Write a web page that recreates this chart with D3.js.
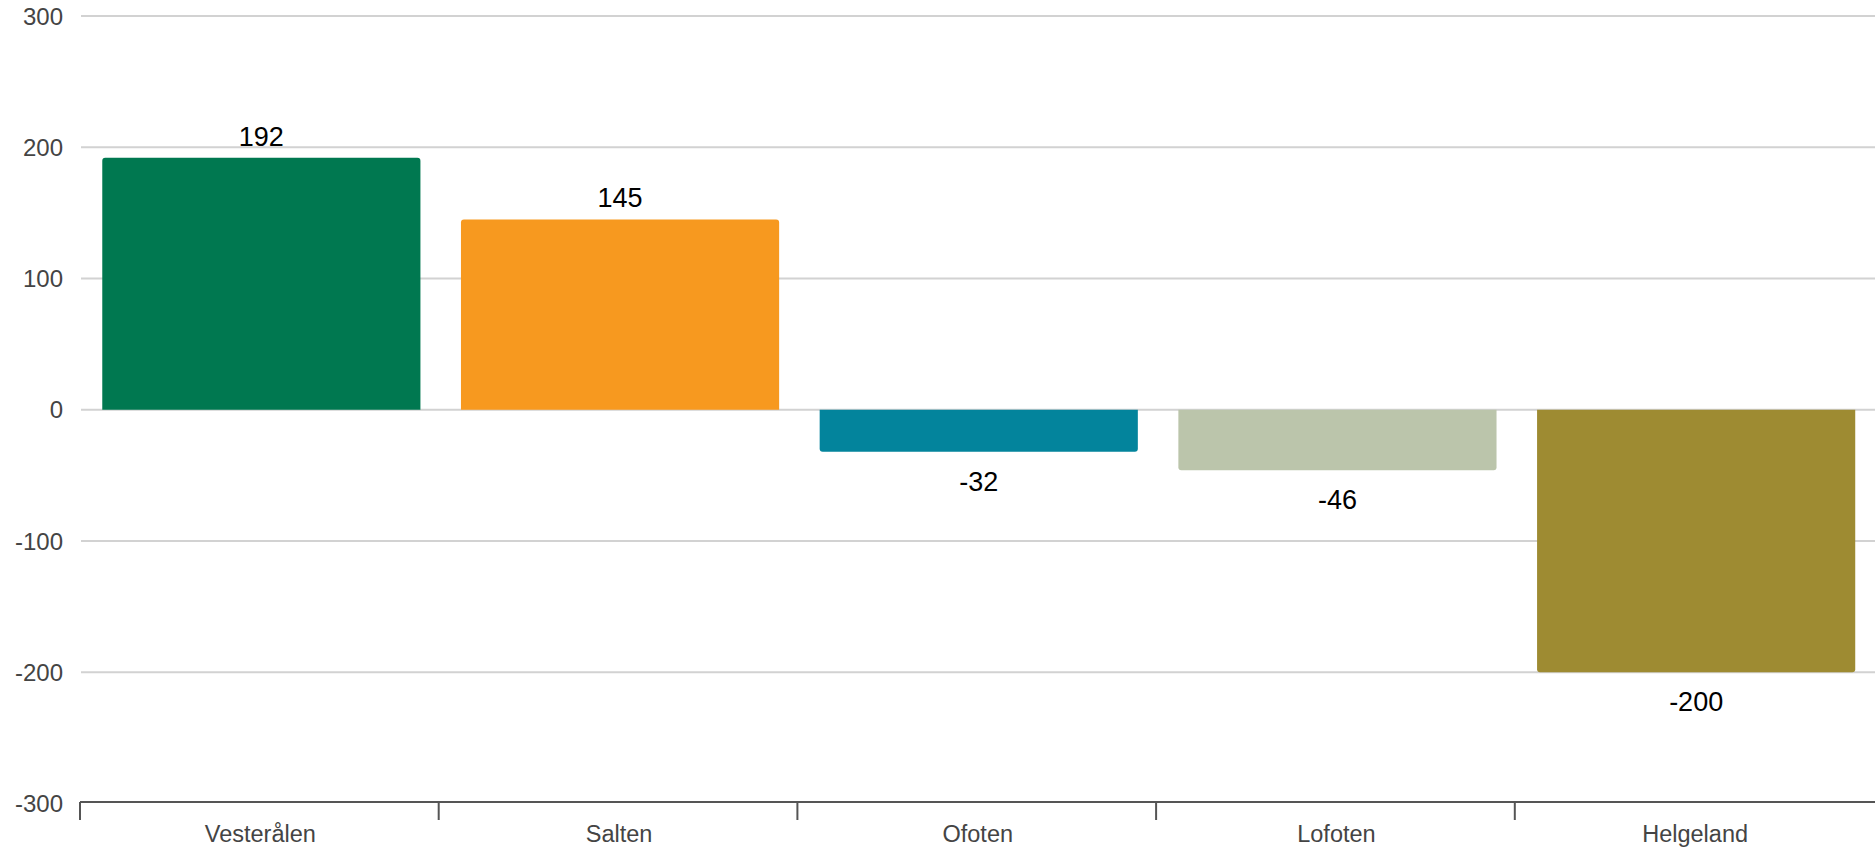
<!DOCTYPE html>
<html>
<head>
<meta charset="utf-8">
<script src="https://cdn.jsdelivr.net/npm/d3@7"></script>
<style>
  html, body { margin: 0; padding: 0; background: #fff; }
  svg { display: block; font-family: "Liberation Sans", Arial, sans-serif; }
</style>
</head>
<body>
<svg id="chart" width="1875" height="849"></svg>
<script>
const categories = ["Vesterålen", "Salten", "Ofoten", "Lofoten", "Helgeland"];
const values = [192, 145, -32, -46, -200];
const colors = ["#007850", "#F7991F", "#03849C", "#BBC5AB", "#9E8B32"];
const yTicks = [300, 200, 100, 0, -100, -200, -300];

const W = 1875, H = 849;
const svg = d3.select("#chart");

const x = d3.scaleBand().domain(categories).range([80, 1873.5]).paddingInner(0).paddingOuter(0);
const y = d3.scaleLinear().domain([-300, 300]).range([803.5, 16]);

const barW = x.bandwidth() * 0.887;

// gridlines
svg.append("g").selectAll("line")
  .data(yTicks.filter(t => t !== -300))
  .join("line")
  .attr("x1", 81).attr("x2", W)
  .attr("y1", d => y(d)).attr("y2", d => y(d))
  .attr("stroke", "#d2d2d2").attr("stroke-width", 2);

// y tick labels
svg.append("g").selectAll("text")
  .data(yTicks)
  .join("text")
  .attr("x", 63).attr("y", d => y(d))
  .attr("dy", "0.36em")
  .attr("text-anchor", "end")
  .attr("font-size", 24)
  .attr("fill", "#444")
  .text(d => d);

// bars with rounded far-end corners
function barPath(d, i) {
  const x0 = x(categories[i]) + (x.bandwidth() - barW) / 2 + 2;
  const x1 = x0 + barW;
  const y0 = y(0);
  const y1 = y(d);
  const r = 3;
  if (d >= 0) {
    return `M${x0},${y0} L${x0},${y1 + r} Q${x0},${y1} ${x0 + r},${y1} L${x1 - r},${y1} Q${x1},${y1} ${x1},${y1 + r} L${x1},${y0} Z`;
  } else {
    return `M${x0},${y0} L${x0},${y1 - r} Q${x0},${y1} ${x0 + r},${y1} L${x1 - r},${y1} Q${x1},${y1} ${x1},${y1 - r} L${x1},${y0} Z`;
  }
}
svg.append("g").selectAll("path")
  .data(values)
  .join("path")
  .attr("d", (d, i) => barPath(d, i))
  .attr("fill", (d, i) => colors[i]);

// value labels
svg.append("g").selectAll("text")
  .data(values)
  .join("text")
  .attr("x", (d, i) => x(categories[i]) + x.bandwidth() / 2 + 2)
  .attr("y", d => d >= 0 ? y(d) - 12 : y(d) + 39)
  .attr("text-anchor", "middle")
  .attr("font-size", 27)
  .attr("fill", "#000")
  .text(d => d);

// x axis
const xAxis = svg.append("g").attr("transform", `translate(0,${y(-300) - 1.5})`);
xAxis.append("line")
  .attr("x1", 80).attr("x2", W)
  .attr("y1", 0).attr("y2", 0)
  .attr("stroke", "#555").attr("stroke-width", 2);
xAxis.selectAll("line.tick")
  .data(categories)
  .join("line")
  .attr("class", "tick")
  .attr("x1", d => x(d)).attr("x2", d => x(d))
  .attr("y1", 0).attr("y2", 18)
  .attr("stroke", "#555").attr("stroke-width", 2);
xAxis.selectAll("text")
  .data(categories)
  .join("text")
  .attr("x", d => x(d) + x.bandwidth() / 2 + 1)
  .attr("y", 40)
  .attr("text-anchor", "middle")
  .attr("font-size", 23.5)
  .attr("fill", "#444")
  .text(d => d);
</script>
</body>
</html>
